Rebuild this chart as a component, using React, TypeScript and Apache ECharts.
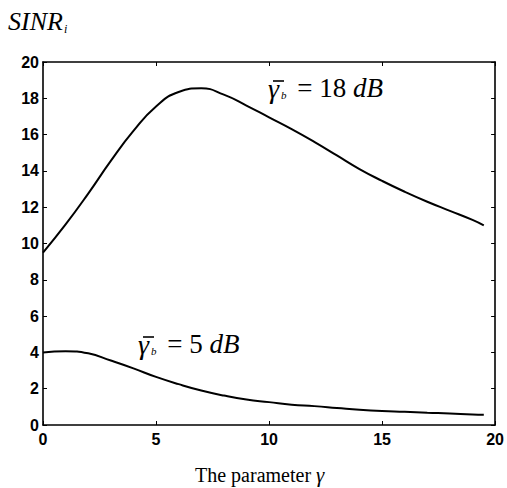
import React, { useEffect, useRef } from "react";
import * as echarts from "echarts";

const xValues = [0, 1, 2, 3, 4, 5, 6, 7, 8, 9, 10, 11, 12, 13, 14, 15, 16, 17, 18, 19, 19.5];
const sinr18 = [9.5, 11.05, 12.75, 14.55, 16.2, 17.55, 18.35, 18.55, 18.2, 17.6, 16.95, 16.3, 15.6, 14.85, 14.1, 13.45, 12.85, 12.3, 11.8, 11.3, 11.0];
const sinr5 = [4.0, 4.07, 3.95, 3.55, 3.12, 2.65, 2.25, 1.9, 1.62, 1.4, 1.26, 1.12, 1.04, 0.94, 0.84, 0.77, 0.73, 0.68, 0.64, 0.58, 0.57];
const xTicks = [0, 5, 10, 15, 20];
const yTicks = [0, 2, 4, 6, 8, 10, 12, 14, 16, 18, 20];

const SERIF = "'Liberation Serif', 'Times New Roman', serif";
const SANS = "'Liberation Sans', Arial, sans-serif";

export default function App() {
  const ref = useRef<HTMLDivElement>(null);
  useEffect(() => {
    if (!ref.current) return;
    const chart = echarts.init(ref.current, undefined, { renderer: "svg" });
    const toPairs = (ys: number[]) => xValues.map((x, i) => [x, ys[i]]);
    const axisCommon = {
      type: "value" as const,
      min: 0,
      max: 20,
      axisLine: { show: true, onZero: false, lineStyle: { color: "#000", width: 1.6 } },
      axisTick: { show: true, inside: true, length: 4, lineStyle: { color: "#000", width: 1 } },
      splitLine: { show: false },
    };
    const labelStyle = { color: "#000", fontFamily: SANS, fontSize: 16, fontWeight: "bold" as const };
    const annRich = {
      g: { fontFamily: SERIF, fontStyle: "italic", fontSize: 28, fill: "#000" },
      s: { fontFamily: SERIF, fontStyle: "italic", fontSize: 11, fill: "#000", padding: [14, 4, 0, 2] },
      n: { fontFamily: SERIF, fontSize: 27, fill: "#000" },
      i: { fontFamily: SERIF, fontStyle: "italic", fontSize: 27, fill: "#000" },
    };
    chart.setOption({
      animation: false,
      backgroundColor: "#fff",
      grid: { left: 43, right: 9, top: 62, bottom: 63, containLabel: false },
      xAxis: [
        {
          ...axisCommon,
          interval: 5,
          position: "bottom",
          axisLabel: { ...labelStyle, margin: 6, formatter: (v: number) => (xTicks.includes(v) ? String(v) : "") },
        },
        {
          ...axisCommon,
          interval: 5,
          position: "top",
          axisLabel: { show: false },
        },
      ],
      yAxis: [
        {
          ...axisCommon,
          interval: 2,
          position: "left",
          axisLabel: { ...labelStyle, margin: 4, formatter: (v: number) => (yTicks.includes(v) ? String(v) : "") },
        },
        {
          ...axisCommon,
          interval: 2,
          position: "right",
          axisLabel: { show: false },
        },
      ],
      series: [
        {
          type: "line",
          data: toPairs(sinr18),
          smooth: 0.5,
          showSymbol: false,
          lineStyle: { color: "#000", width: 2 },
        },
        {
          type: "line",
          data: toPairs(sinr5),
          smooth: 0.5,
          showSymbol: false,
          lineStyle: { color: "#000", width: 2 },
        },
      ],
      graphic: [
        {
          type: "text",
          left: 8,
          top: 8,
          style: {
            text: "{m|SINR}{s|i}",
            rich: {
              m: { fontFamily: SERIF, fontStyle: "italic", fontSize: 26, fill: "#000" },
              s: { fontFamily: SERIF, fontStyle: "italic", fontSize: 12, fill: "#000", padding: [16, 0, 0, 1] },
            },
          },
        },
        {
          type: "text",
          left: 195,
          top: 464,
          style: {
            text: "{n|The parameter }{g|γ}",
            rich: {
              n: { fontFamily: SERIF, fontSize: 20, fill: "#000" },
              g: { fontFamily: SERIF, fontStyle: "italic", fontSize: 21, fill: "#000" },
            },
          },
        },
        {
          type: "text",
          left: 268,
          top: 74,
          style: { text: "{g|γ}{s|b}{n| = 18 }{i|dB}", rich: annRich },
        },
        { type: "line", shape: { x1: 273, y1: 81, x2: 284, y2: 81 }, style: { stroke: "#000", lineWidth: 1.6 } },
        {
          type: "text",
          left: 138,
          top: 330,
          style: { text: "{g|γ}{s|b}{n| = 5 }{i|dB}", rich: annRich },
        },
        { type: "line", shape: { x1: 143, y1: 337, x2: 154, y2: 337 }, style: { stroke: "#000", lineWidth: 1.6 } },
      ],
    });
    return () => chart.dispose();
  }, []);
  return (
    <div
      ref={ref}
      style={{ position: "fixed", left: 0, top: 0, width: 507, height: 488, background: "#fff" }}
    />
  );
}
